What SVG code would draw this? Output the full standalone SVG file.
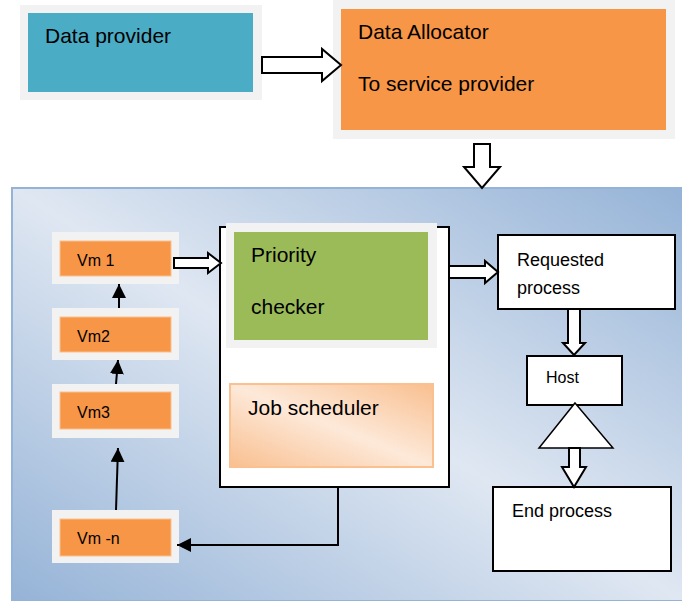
<svg xmlns="http://www.w3.org/2000/svg" width="682" height="601" viewBox="0 0 682 601">
  <defs>
    <linearGradient id="panelGrad" x1="1" y1="0" x2="0" y2="1">
      <stop offset="0" stop-color="#95b3d7"/>
      <stop offset="0.5" stop-color="#dfe7f2"/>
      <stop offset="1" stop-color="#95b3d7"/>
    </linearGradient>
    <linearGradient id="jobGrad" x1="1" y1="0" x2="0" y2="1">
      <stop offset="0" stop-color="#f9bf8f"/>
      <stop offset="0.5" stop-color="#fde9d9"/>
      <stop offset="1" stop-color="#f9bf8f"/>
    </linearGradient>
    <marker id="arr" markerUnits="userSpaceOnUse" markerWidth="14" markerHeight="14" viewBox="0 0 14 14" refX="14" refY="7" orient="auto">
      <path d="M0,0 L14,7 L0,14 Z" fill="#000"/>
    </marker>
    <style>
      text { font-family: "Liberation Sans", Arial, sans-serif; fill: #000; }
      .big { font-size: 21px; }
      .mid { font-size: 18px; }
      .sm { font-size: 16px; }
      .halo { fill: #f2f2f2; }
      .orange { fill: #f79646; stroke: #fac08f; stroke-width: 1; }
      .box { fill: #fff; stroke: #000; stroke-width: 2; }
      .block { fill: #fff; stroke: #000; stroke-width: 2; stroke-linejoin: miter; }
      .line { fill: none; stroke: #000; stroke-width: 2; }
    </style>
  </defs>

  <rect width="682" height="601" fill="#fff"/>

  <g id="panel">
    <rect x="12" y="188" width="671" height="413" fill="url(#panelGrad)" stroke="#95b3d7" stroke-width="2"/>
  </g>

  <g id="data-provider">
    <rect class="halo" x="20" y="5" width="242" height="95"/>
    <rect x="28" y="13" width="225" height="79" fill="#4bacc6"/>
    <text class="big" x="45" y="43">Data provider</text>
  </g>

  <g id="data-allocator">
    <rect class="halo" x="333" y="0" width="342" height="139"/>
    <rect x="341" y="9" width="325" height="121" fill="#f79646"/>
    <text class="big" x="358" y="39">Data Allocator</text>
    <text class="big" x="358" y="91">To service provider</text>
  </g>

  <g id="vm1">
    <rect class="halo" x="52" y="232" width="127" height="52"/>
    <rect class="orange" x="60" y="241" width="111" height="35"/>
    <text class="sm" x="77" y="266">Vm 1</text>
  </g>
  <g id="vm2">
    <rect class="halo" x="52" y="308" width="127" height="52"/>
    <rect class="orange" x="60" y="317" width="111" height="35"/>
    <text class="sm" x="77" y="342">Vm2</text>
  </g>
  <g id="vm3">
    <rect class="halo" x="52" y="384" width="127" height="54"/>
    <rect class="orange" x="60" y="392" width="111" height="37"/>
    <text class="sm" x="77" y="418">Vm3</text>
  </g>
  <g id="vm-n">
    <rect class="halo" x="52" y="510" width="127" height="53"/>
    <rect class="orange" x="60" y="519" width="111" height="37"/>
    <text class="sm" x="77" y="544">Vm -n</text>
  </g>

  <g id="scheduler-container">
    <rect class="box" x="220" y="227" width="229" height="260"/>
  </g>
  <g id="priority-checker">
    <rect class="halo" x="226" y="223" width="211" height="125"/>
    <rect x="234" y="232" width="194" height="108" fill="#9bbb59"/>
    <text class="big" x="251" y="262">Priority</text>
    <text class="big" x="251" y="314">checker</text>
  </g>
  <g id="job-scheduler">
    <rect x="230" y="384" width="203" height="83" fill="url(#jobGrad)" stroke="#fac08f" stroke-width="2"/>
    <text class="big" x="248" y="415">Job scheduler</text>
  </g>

  <g id="requested-process">
    <rect class="box" x="498" y="235" width="177" height="74"/>
    <text class="mid" x="517" y="266">Requested</text>
    <text class="mid" x="517" y="294">process</text>
  </g>
  <g id="host">
    <rect class="box" x="527" y="356" width="95" height="49"/>
    <text class="sm" x="546" y="383">Host</text>
  </g>
  <g id="host-triangle">
    <polygon points="575,403 613,448 539,448" fill="#fff" stroke="#000" stroke-width="1.5"/>
  </g>
  <g id="end-process">
    <rect class="box" x="493" y="487" width="178" height="84"/>
    <text class="mid" x="512" y="517">End process</text>
  </g>

  <g id="connectors">
    <polygon class="block" points="262,57 322,57 322,49 341,65 322,81 322,73 262,73"/>
    <polygon class="block" points="474,144 490,144 490,167 500,167 482,188 464,167 474,167"/>
    <polygon class="block" points="174,258 208,258 208,253 221,263 208,273 208,268 174,268"/>
    <polygon class="block" points="449,266 485,266 485,261 498,272 485,283 485,278 449,278"/>
    <polygon class="block" points="568,309 580,309 580,343 585,343 574,355 563,343 568,343"/>
    <polygon class="block" points="569,448 580,448 580,467 586,467 574,487 562,467 569,467"/>
    <line class="line" x1="119" y1="308" x2="119" y2="284" marker-end="url(#arr)"/>
    <line class="line" x1="116" y1="384" x2="118" y2="360" marker-end="url(#arr)"/>
    <line class="line" x1="116" y1="510" x2="118" y2="448" marker-end="url(#arr)"/>
    <polyline class="line" points="338,487 338,545 177,545" marker-end="url(#arr)"/>
  </g>
</svg>
